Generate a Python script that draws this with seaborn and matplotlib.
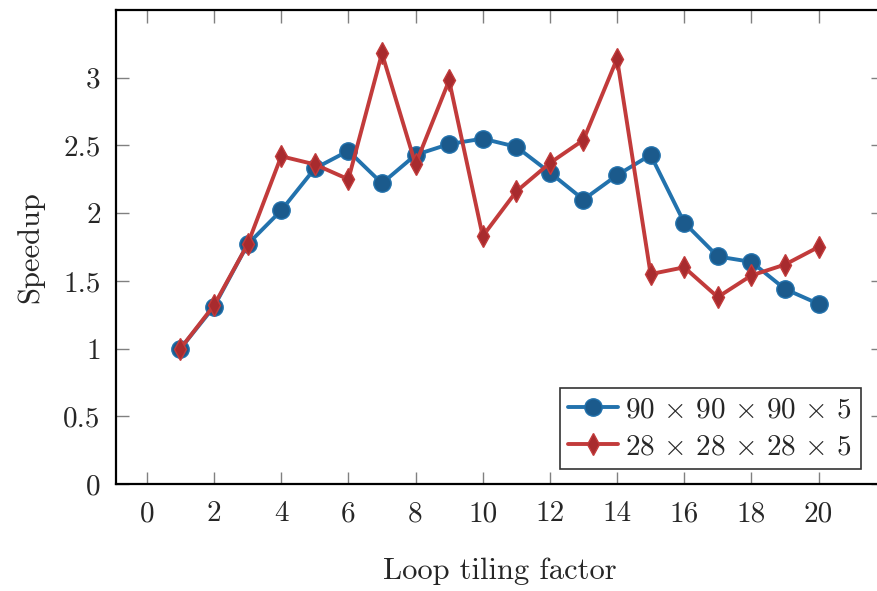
import matplotlib
matplotlib.use("Agg")
import matplotlib.pyplot as plt
import seaborn as sns
import pandas as pd

x_vals = list(range(1, 21))
speedup_90 = [1.00, 1.31, 1.77, 2.02, 2.33, 2.46, 2.22, 2.43, 2.51, 2.55,
              2.49, 2.30, 2.10, 2.28, 2.43, 1.93, 1.68, 1.64, 1.44, 1.33]
speedup_28 = [1.00, 1.32, 1.77, 2.42, 2.36, 2.25, 3.18, 2.36, 2.98, 1.83,
              2.16, 2.37, 2.54, 3.14, 1.55, 1.60, 1.38, 1.54, 1.62, 1.75]
labels = [r"$90\,\times\,90\,\times\,90\,\times\,5$", r"$28\,\times\,28\,\times\,28\,\times\,5$"]
xticks = list(range(0, 21, 2))
yticks = [0, 0.5, 1, 1.5, 2, 2.5, 3]
ytick_labels = ["0", "0.5", "1", "1.5", "2", "2.5", "3"]

sns.set_theme(style="white")
plt.rcParams["font.family"] = ["cmr10", "DejaVu Serif"]
plt.rcParams["mathtext.fontset"] = "cm"
plt.rcParams["axes.formatter.use_mathtext"] = True

fig = plt.figure(figsize=(8.77, 5.91), dpi=100)
ax = fig.add_axes([116 / 877, 107 / 591, (883 - 116) / 877, (484 - 10) / 591])

df1 = pd.DataFrame({"x": x_vals, "y": speedup_90})
df2 = pd.DataFrame({"x": x_vals, "y": speedup_28})

sns.lineplot(data=df1, x="x", y="y", ax=ax, color="#2272ad", lw=2.8,
             marker="o", markersize=12.5, markerfacecolor="#1b5a8c",
             markeredgecolor="#2272ad", markeredgewidth=1.0, label=labels[0])
sns.lineplot(data=df2, x="x", y="y", ax=ax, color="#c23b3b", lw=2.8,
             marker="d", markersize=11, markerfacecolor="#a82b2e",
             markeredgecolor="#c23b3b", markeredgewidth=1.0, label=labels[1])

ax.set_xlim(-0.92, 21.92)
ax.set_ylim(0, 3.5)
ax.set_xticks(xticks)
ax.set_xticklabels([str(t) for t in xticks])
ax.set_yticks(yticks)
ax.set_yticklabels(ytick_labels)
ax.tick_params(direction="in", length=9, width=1.0, color="#808080",
               labelsize=21, top=True, right=True, bottom=True, left=True,
               pad=11)
ax.tick_params(axis="x", pad=12)
for s in ax.spines.values():
    s.set_color("black")
    s.set_linewidth(1.6)

ax.set_xlabel("Loop tiling factor", fontsize=22, labelpad=22)
ax.set_ylabel("Speedup", fontsize=22, labelpad=14)

leg = ax.legend(loc="lower right", bbox_to_anchor=(861 / 877, 122 / 591),
                bbox_transform=fig.transFigure, borderaxespad=0,
                fontsize=21, frameon=True, fancybox=False, handlelength=1.7,
                handletextpad=0.25, borderpad=0.3, labelspacing=0.35)
leg.get_frame().set_edgecolor("black")
leg.get_frame().set_linewidth(1.2)

fig.savefig("out.png", dpi=100)
